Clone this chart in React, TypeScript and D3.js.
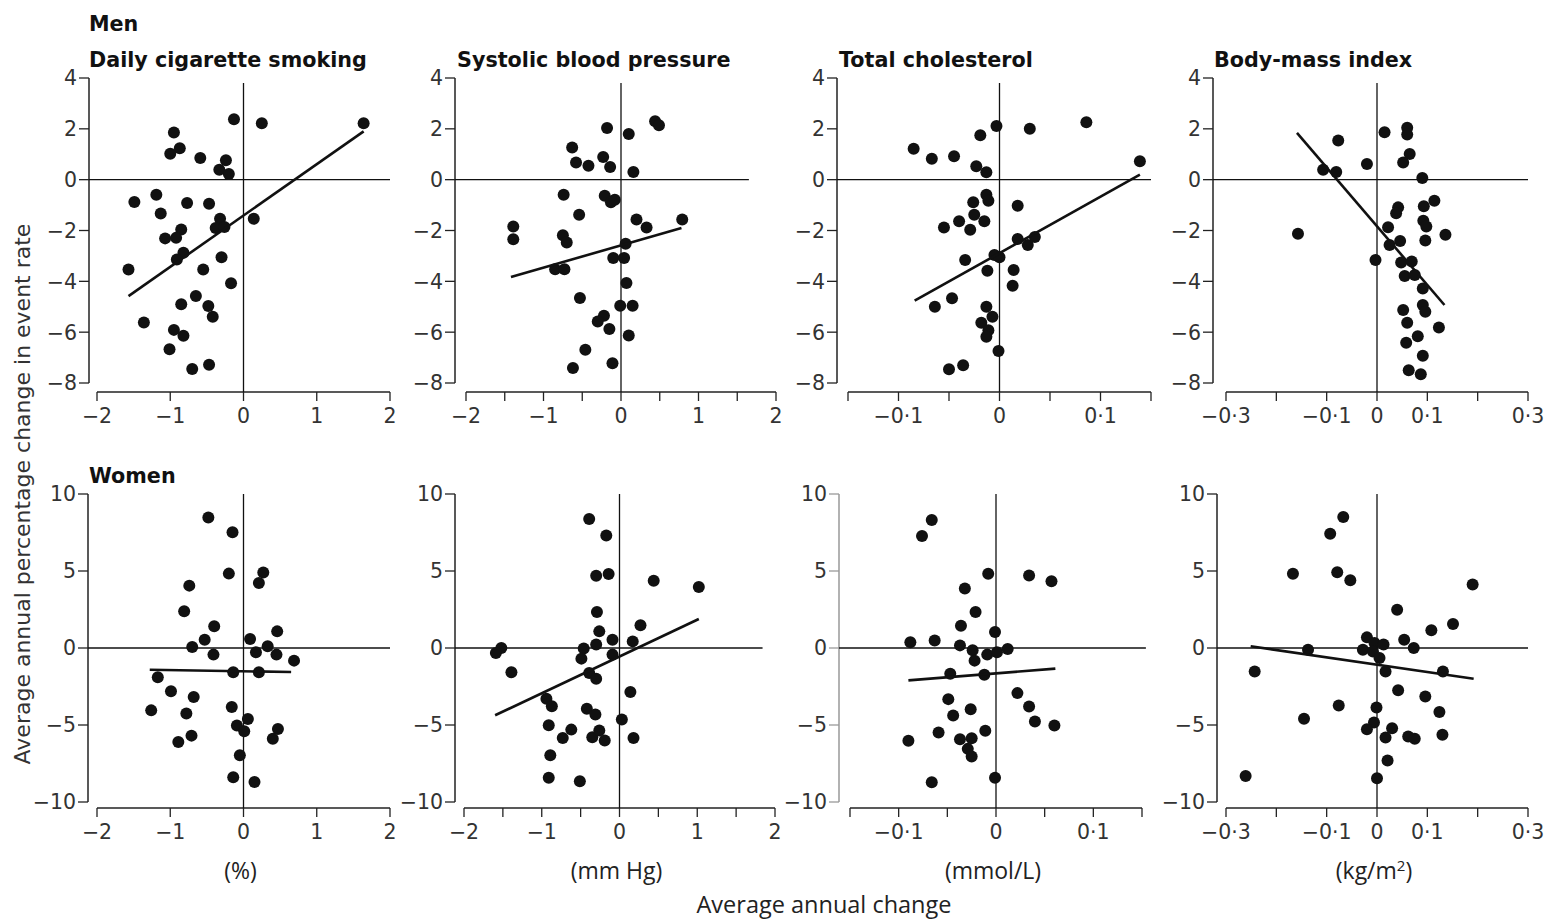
import * as d3 from 'd3';

// ---- data ----
const rowLabels = ['Men', 'Women'];
const titles = ['Daily cigarette smoking', 'Systolic blood pressure', 'Total cholesterol', 'Body-mass index'];
const unitLabels = ['(%)', '(mm Hg)', '(mmol/L)', '(kg/m'];
const yTitle = 'Average annual percentage change in event rate';
const xTitle = 'Average annual change';

const yTicksMen = [4, 2, 0, -2, -4, -6, -8];
const yTicksWomen = [10, 5, 0, -5, -10];

const xTicksSmoking = [-2, -1, 0, 1, 2];
const xLabelsSmoking = [-2, -1, 0, 1, 2];
const xTicksSbp = [-2, -1.5, -1, -0.5, 0, 0.5, 1, 1.5, 2];
const xLabelsSbp = [-2, -1, 0, 1, 2];
const xTicksChol = [-0.15, -0.1, -0.05, 0, 0.05, 0.1, 0.15];
const xLabelsChol = [-0.1, 0, 0.1];
const xTicksBmi = [-0.3, -0.2, -0.1, 0, 0.1, 0.2, 0.3];
const xLabelsBmi = [-0.3, -0.1, 0, 0.1, 0.3];

const menSmoking = [
  [-0.13, 2.38], [0.25, 2.22], [1.64, 2.22], [-0.95, 1.86], [-1.0, 1.02], [-0.87, 1.24], [-0.59, 0.85],
  [-0.24, 0.76], [-0.33, 0.39], [-0.2, 0.22], [-1.49, -0.88], [-1.19, -0.59], [-0.77, -0.92], [-0.47, -0.95],
  [-1.13, -1.33], [-0.32, -1.54], [0.14, -1.54], [-0.38, -1.9], [-0.26, -1.86], [-0.85, -1.96], [-1.07, -2.31],
  [-0.92, -2.29], [-0.82, -2.88], [-0.91, -3.14], [-0.3, -3.05], [-1.57, -3.53], [-0.55, -3.53], [-0.17, -4.08],
  [-0.65, -4.58], [-0.85, -4.9], [-0.48, -4.97], [-0.42, -5.39], [-1.36, -5.62], [-0.95, -5.91], [-0.82, -6.14],
  [-1.01, -6.67], [-0.7, -7.45], [-0.47, -7.28],
];
const menSmokingFit = [[-1.57, -4.58], [1.64, 1.9]];

const menSbp = [
  [-0.18, 2.03], [0.1, 1.8], [0.44, 2.3], [0.49, 2.14], [-0.63, 1.27], [-0.58, 0.68], [-0.42, 0.55],
  [-0.23, 0.89], [-0.14, 0.5], [0.16, 0.3], [-0.74, -0.59], [-0.21, -0.63], [-0.13, -0.89], [-0.08, -0.79],
  [-0.54, -1.38], [0.2, -1.57], [0.33, -1.88], [0.79, -1.57], [-1.39, -1.84], [-1.39, -2.34], [-0.75, -2.19],
  [-0.7, -2.47], [0.06, -2.52], [-0.1, -3.08], [0.04, -3.08], [-0.85, -3.52], [-0.73, -3.52], [0.07, -4.07],
  [-0.53, -4.66], [-0.01, -4.96], [0.15, -4.96], [-0.22, -5.35], [-0.3, -5.58], [-0.15, -5.88], [0.1, -6.13],
  [-0.46, -6.69], [-0.62, -7.41], [-0.11, -7.22],
];
const menSbpFit = [[-1.42, -3.83], [0.78, -1.9]];

const menChol = [
  [-0.085, 1.22], [-0.067, 0.82], [-0.045, 0.92], [-0.019, 1.75], [-0.003, 2.11], [0.03, 2.0], [0.086, 2.26],
  [0.139, 0.72], [-0.023, 0.53], [-0.013, 0.29], [-0.013, -0.59], [-0.011, -0.83], [-0.026, -0.89], [0.018, -1.03],
  [-0.025, -1.38], [-0.015, -1.64], [-0.04, -1.64], [-0.055, -1.88], [-0.029, -1.97], [0.018, -2.33], [0.028, -2.57],
  [0.035, -2.26], [-0.005, -2.96], [0.0, -3.05], [-0.034, -3.16], [-0.012, -3.58], [0.014, -3.55], [0.013, -4.17],
  [-0.047, -4.67], [-0.064, -5.0], [-0.013, -5.0], [-0.007, -5.39], [-0.018, -5.63], [-0.011, -5.92], [-0.013, -6.18],
  [-0.001, -6.74], [-0.05, -7.46], [-0.036, -7.3],
];
const menCholFit = [[-0.084, -4.76], [0.139, 0.2]];

const menBmi = [
  [-0.157, -2.13], [-0.107, 0.39], [-0.081, 0.3], [-0.077, 1.54], [-0.02, 0.62], [-0.003, -3.16], [0.015, 1.87],
  [0.06, 2.04], [0.06, 1.78], [0.065, 1.01], [0.052, 0.68], [0.09, 0.07], [0.114, -0.83], [0.093, -1.05],
  [0.042, -1.09], [0.038, -1.32], [0.092, -1.62], [0.098, -1.84], [0.136, -2.17], [0.096, -2.39], [0.022, -1.87],
  [0.025, -2.57], [0.046, -2.41], [0.048, -3.26], [0.069, -3.22], [0.055, -3.79], [0.075, -3.75], [0.091, -4.28],
  [0.091, -4.93], [0.096, -5.2], [0.052, -5.13], [0.06, -5.63], [0.123, -5.82], [0.058, -6.42], [0.081, -6.16],
  [0.091, -6.93], [0.063, -7.5], [0.087, -7.66],
];
const menBmiFit = [[-0.159, 1.84], [0.134, -4.93]];

const womenSmoking = [
  [-0.48, 8.48], [-0.15, 7.51], [-0.2, 4.83], [0.27, 4.91], [0.21, 4.22], [-0.74, 4.05], [-0.81, 2.38],
  [-0.4, 1.41], [-0.53, 0.54], [-0.7, 0.06], [-0.41, -0.43], [0.09, 0.58], [0.33, 0.11], [0.46, 1.08],
  [0.17, -0.28], [0.45, -0.43], [0.69, -0.82], [-0.14, -1.58], [0.21, -1.58], [-1.17, -1.9], [-0.99, -2.81],
  [-0.68, -3.18], [-1.26, -4.05], [-0.78, -4.26], [-0.16, -3.83], [0.06, -4.61], [-0.09, -5.04], [0.01, -5.41],
  [0.47, -5.26], [0.4, -5.89], [-0.71, -5.69], [-0.89, -6.1], [-0.05, -6.97], [-0.14, -8.4], [0.15, -8.7],
];
const womenSmokingFit = [[-1.28, -1.41], [0.65, -1.56]];

const womenSbp = [
  [-0.39, 8.37], [-0.17, 7.31], [-0.3, 4.69], [-0.14, 4.8], [0.44, 4.37], [1.02, 3.96], [-0.29, 2.34],
  [-0.26, 1.08], [0.27, 1.47], [-0.09, 0.54], [0.17, 0.43], [-0.3, 0.22], [-0.46, -0.04], [-0.49, -0.69],
  [-0.09, -0.43], [-1.52, 0.0], [-1.59, -0.32], [-1.39, -1.58], [-0.39, -1.62], [-0.3, -1.99], [0.14, -2.85],
  [-0.94, -3.29], [-0.87, -3.78], [-0.42, -3.94], [-0.31, -4.32], [0.03, -4.65], [-0.91, -5.02], [-0.62, -5.3],
  [-0.73, -5.84], [-0.35, -5.79], [-0.26, -5.36], [-0.19, -6.0], [0.18, -5.84], [-0.89, -6.96], [-0.91, -8.43],
  [-0.51, -8.65],
];
const womenSbpFit = [[-1.6, -4.37], [1.02, 1.88]];

const womenChol = [
  [-0.066, 8.31], [-0.076, 7.27], [-0.008, 4.82], [0.034, 4.71], [0.057, 4.34], [-0.032, 3.86], [-0.021, 2.34],
  [-0.036, 1.45], [-0.001, 1.04], [-0.088, 0.37], [-0.063, 0.48], [-0.037, 0.17], [-0.024, -0.15], [-0.009, -0.43],
  [0.001, -0.28], [0.012, -0.07], [-0.022, -0.82], [-0.047, -1.67], [-0.012, -1.74], [0.022, -2.93], [-0.049, -3.32],
  [0.034, -3.8], [-0.044, -4.38], [-0.026, -3.97], [0.04, -4.77], [0.06, -5.03], [-0.09, -6.03], [-0.059, -5.49],
  [-0.037, -5.92], [-0.025, -5.86], [-0.011, -5.38], [-0.029, -6.55], [-0.025, -7.05], [-0.066, -8.72], [-0.001, -8.42],
];
const womenCholFit = [[-0.09, -2.1], [0.061, -1.34]];

const womenBmi = [
  [-0.067, 8.5], [-0.093, 7.42], [-0.167, 4.82], [-0.079, 4.92], [-0.053, 4.4], [0.19, 4.12], [0.04, 2.49],
  [0.151, 1.56], [0.108, 1.15], [-0.02, 0.69], [0.054, 0.54], [0.073, 0.0], [-0.005, 0.33], [0.013, 0.22],
  [-0.028, -0.11], [-0.008, -0.22], [0.005, -0.65], [-0.137, -0.11], [-0.243, -1.52], [0.017, -1.52], [0.131, -1.52],
  [0.042, -2.75], [0.096, -3.15], [-0.076, -3.73], [-0.001, -3.86], [0.124, -4.16], [-0.145, -4.6], [-0.006, -4.84],
  [-0.02, -5.27], [0.03, -5.21], [0.017, -5.81], [0.062, -5.75], [0.075, -5.9], [0.13, -5.64], [0.021, -7.31],
  [0.0, -8.46], [-0.261, -8.31],
];
const womenBmiFit = [[-0.251, 0.11], [0.192, -2.0]];

// ---- layout (pixels) ----
const rows = [
  { yDomain: [4, -8], yRange: [78, 383], axisY: 392, yTicks: yTicksMen, zeroTop: 3.8, titleY: 67, labelY: 31 },
  { yDomain: [10, -10], yRange: [494, 802], axisY: 808, yTicks: yTicksWomen, zeroTop: 10, titleY: 0, labelY: 483 },
];

const panels = [
  { row: 0, col: 0, axisX: 89, xr: [97, 390], xd: [-2, 2], ticks: xTicksSmoking, labels: xLabelsSmoking, zeroEnd: 2, pts: menSmoking, fit: menSmokingFit },
  { row: 0, col: 1, axisX: 455, xr: [466, 776], xd: [-2, 2], ticks: xTicksSbp, labels: xLabelsSbp, zeroEnd: 1.65, pts: menSbp, fit: menSbpFit },
  { row: 0, col: 2, axisX: 837, xr: [848, 1151], xd: [-0.15, 0.15], ticks: xTicksChol, labels: xLabelsChol, zeroEnd: 0.15, pts: menChol, fit: menCholFit },
  { row: 0, col: 3, axisX: 1213, xr: [1226, 1528], xd: [-0.3, 0.3], ticks: xTicksBmi, labels: xLabelsBmi, zeroEnd: 0.3, pts: menBmi, fit: menBmiFit },
  { row: 1, col: 0, axisX: 88, xr: [97, 390], xd: [-2, 2], ticks: xTicksSmoking, labels: xLabelsSmoking, zeroEnd: 2, pts: womenSmoking, fit: womenSmokingFit },
  { row: 1, col: 1, axisX: 455, xr: [464, 775], xd: [-2, 2], ticks: xTicksSbp, labels: xLabelsSbp, zeroEnd: 1.84, pts: womenSbp, fit: womenSbpFit },
  { row: 1, col: 2, axisX: 839, xr: [850, 1142], xd: [-0.15, 0.15], ticks: xTicksChol, labels: xLabelsChol, zeroEnd: 0.154, pts: womenChol, fit: womenCholFit, grayAxis: true },
  { row: 1, col: 3, axisX: 1217, xr: [1226, 1528], xd: [-0.3, 0.3], ticks: xTicksBmi, labels: xLabelsBmi, zeroEnd: 0.3, pts: womenBmi, fit: womenBmiFit },
];

const titleX = [89, 457, 839, 1214];

const tickFont = '"DejaVu Sans", sans-serif';
const boldFont = '"DejaVu Sans", sans-serif';

// "−0·1" style labels
const fmt = (v: number) => {
  if (v === 0) return '0';
  const s = String(Math.abs(v)).replace('.', '\u00b7');
  return v < 0 ? '\u2212' + s : s;
};

const Panel = ({ p }: { p: any }) => {
  const r = rows[p.row];
  const x = d3.scaleLinear().domain(p.xd).range(p.xr);
  const y = d3.scaleLinear().domain(r.yDomain).range(r.yRange);
  const line = d3.line<number[]>().x(d => x(d[0])).y(d => y(d[1]));
  const yAxisColor = p.grayAxis ? '#999' : '#222';
  return (
    <g>
      {/* y axis */}
      <line x1={p.axisX} x2={p.axisX} y1={y(r.yDomain[0])} y2={y(r.yDomain[1])} stroke={yAxisColor} strokeWidth={1.5} />
      {r.yTicks.map(t => (
        <g key={'y' + t}>
          <line x1={p.axisX - 10} x2={p.axisX} y1={y(t)} y2={y(t)} stroke={yAxisColor} strokeWidth={1.3} />
          <text x={p.axisX - 12} y={y(t)} dy="0.36em" textAnchor="end" fontFamily={tickFont} fontSize={20.5} fill="#333">{fmt(t)}</text>
        </g>
      ))}
      {/* x axis */}
      <line x1={x(p.xd[0])} x2={x(p.xd[1])} y1={r.axisY} y2={r.axisY} stroke="#222" strokeWidth={1.5} />
      {p.ticks.map((t: number) => (
        <line key={'xt' + t} x1={x(t)} x2={x(t)} y1={r.axisY} y2={r.axisY + 9} stroke="#222" strokeWidth={1.3} />
      ))}
      {p.labels.map((t: number) => (
        <text key={'xl' + t} x={x(t)} y={r.axisY + 31} textAnchor="middle" fontFamily={tickFont} fontSize={20.5} fill="#333">{fmt(t)}</text>
      ))}
      {/* zero reference lines */}
      <line x1={x(0)} x2={x(0)} y1={y(r.zeroTop)} y2={r.axisY} stroke="#111" strokeWidth={1.3} />
      <line x1={p.axisX} x2={x(p.zeroEnd)} y1={y(0)} y2={y(0)} stroke="#111" strokeWidth={1.3} />
      {/* points */}
      {p.pts.map((d: number[], i: number) => (
        <circle key={i} cx={x(d[0])} cy={y(d[1])} r={6} fill="#111" />
      ))}
      {/* fitted line */}
      <path d={line(p.fit) || ''} fill="none" stroke="#111" strokeWidth={2.6} />
    </g>
  );
};

const App = () => {
  const W = 1550;
  const H = 922;
  return (
    <svg width={W} height={H} style={{ position: 'absolute', left: 0, top: 0, background: '#fff' }}>
      <rect width={W} height={H} fill="#fff" />
      <text x={89} y={rows[0].labelY} fontFamily={boldFont} fontWeight="bold" fontSize={20.7} fill="#111">{rowLabels[0]}</text>
      <text x={89} y={rows[1].labelY} fontFamily={boldFont} fontWeight="bold" fontSize={20.7} fill="#111">{rowLabels[1]}</text>
      {titles.map((t, i) => (
        <text key={t} x={titleX[i]} y={rows[0].titleY} fontFamily={boldFont} fontWeight="bold" fontSize={20.7} fill="#111">{t}</text>
      ))}
      {panels.map((p, i) => <Panel key={i} p={p} />)}
      {/* unit labels under each column */}
      {unitLabels.map((u, i) => {
        const p = panels[4 + i];
        const x = d3.scaleLinear().domain(p.xd).range(p.xr);
        return (
          <text key={u} x={x(0) - 3} y={879} textAnchor="middle" fontFamily='"Open Sans", sans-serif' fontSize={23} fill="#222">
            {u}
            {i === 3 && <tspan dy={-8} fontSize={15}>2</tspan>}
            {i === 3 && <tspan dy={8}>)</tspan>}
          </text>
        );
      })}
      <text x={824} y={913} textAnchor="middle" fontFamily='"Open Sans", sans-serif' fontSize={23.5} fill="#222">{xTitle}</text>
      <text transform="translate(30,494) rotate(-90)" textAnchor="middle" fontFamily={tickFont} fontSize={22} fill="#333">{yTitle}</text>
    </svg>
  );
};

export default App;
